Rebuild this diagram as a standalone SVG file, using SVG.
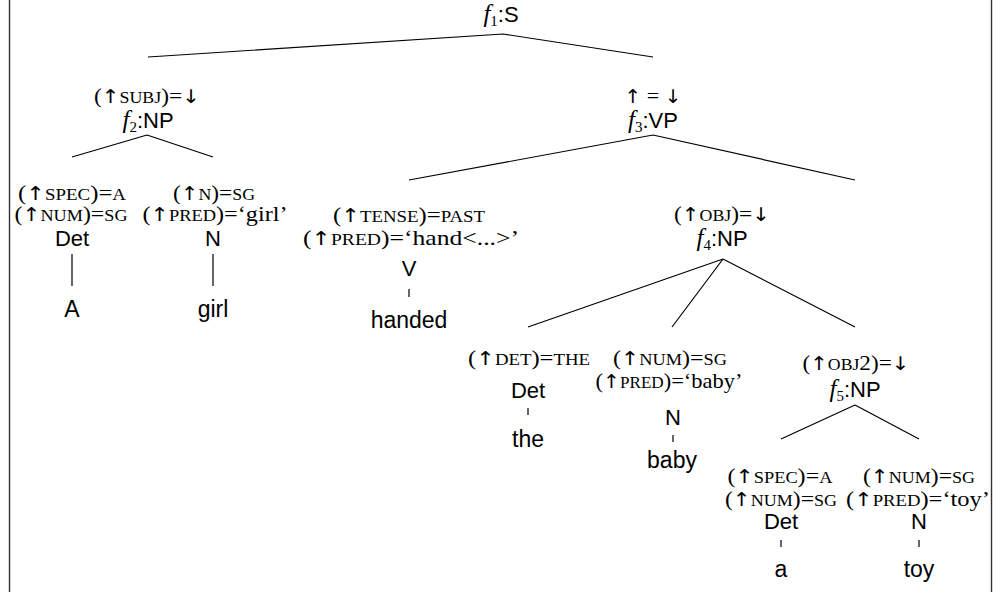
<svg xmlns="http://www.w3.org/2000/svg" width="1007" height="592" viewBox="0 0 1007 592">
<style>
text{text-anchor:middle;fill:#000}
.ann{font-family:"Liberation Serif","DejaVu Serif",serif;font-size:21px}
.sc{font-size:16px}
.ar{font-family:"DejaVu Sans",sans-serif;font-size:19px;fill:#000}
.lab{font-family:"Liberation Sans","DejaVu Sans",sans-serif;font-size:22px}
.leaf{font-family:"Liberation Sans","DejaVu Sans",sans-serif;font-size:23px}
.fi{font-family:"Liberation Serif",serif;font-style:italic;font-size:25px}
.sub{font-family:"Liberation Serif",serif;font-size:15px}
.edge{stroke:#000;stroke-width:1.2;fill:none}
.frame{stroke:#333;stroke-width:1.4;fill:none}
</style>
<rect width="1007" height="592" fill="#fff"/>
<g id="frame">
<path class="frame" d="M9.5,0V592M991.5,0V592"/>
</g>
<g id="connectors">
<path class="edge" d="M503,34L148,57M503,34L653,57"/>
<path class="edge" d="M147,135L72,157M147,135L213,157"/>
<path class="edge" d="M72,254V286M213,254V286"/>
<path class="edge" d="M653,135L409,180M653,135L855,180"/>
<path class="edge" d="M409,289V297"/>
<path class="edge" d="M723,259L528,327M723,259L672,327M723,259L855,327"/>
<path class="edge" d="M528,408V415M673,435V442"/>
<path class="edge" d="M855,405L781,439M855,405L919,439"/>
<path class="edge" d="M781,540V547M919,540V547"/>
</g>
<g id="n-S">
<text class="lab" x="501" y="22"><tspan class="fi">f</tspan><tspan class="sub" dy="4">1</tspan><tspan dy="-4">:S</tspan></text>
</g>
<g id="n-NP2">
<text class="ann" x="147" y="103" textLength="106" lengthAdjust="spacingAndGlyphs">(<tspan class="ar">↑</tspan><tspan class="sc">SUBJ</tspan>)=<tspan class="ar">↓</tspan></text>
<text class="lab" x="148" y="128"><tspan class="fi">f</tspan><tspan class="sub" dy="4">2</tspan><tspan dy="-4">:NP</tspan></text>
</g>
<g id="n-Det1">
<text class="ann" x="72" y="200" textLength="108" lengthAdjust="spacingAndGlyphs">(<tspan class="ar">↑</tspan><tspan class="sc">SPEC</tspan>)=<tspan class="sc">A</tspan></text>
<text class="ann" x="71" y="221" textLength="113" lengthAdjust="spacingAndGlyphs">(<tspan class="ar">↑</tspan><tspan class="sc">NUM</tspan>)=<tspan class="sc">SG</tspan></text>
<text class="lab" x="72" y="246">Det</text>
</g>
<g id="w-A"><text class="leaf" x="72" y="317">A</text></g>
<g id="n-N1">
<text class="ann" x="214" y="200" textLength="82" lengthAdjust="spacingAndGlyphs">(<tspan class="ar">↑</tspan><tspan class="sc">N</tspan>)=<tspan class="sc">SG</tspan></text>
<text class="ann" x="215" y="221" textLength="145" lengthAdjust="spacingAndGlyphs">(<tspan class="ar">↑</tspan><tspan class="sc">PRED</tspan>)=‘girl’</text>
<text class="lab" x="213" y="246">N</text>
</g>
<g id="w-girl"><text class="leaf" x="213" y="317">girl</text></g>
<g id="n-VP">
<text class="ann" x="653" y="103" textLength="57" lengthAdjust="spacingAndGlyphs"><tspan class="ar">↑</tspan> = <tspan class="ar">↓</tspan></text>
<text class="lab" x="653" y="128"><tspan class="fi">f</tspan><tspan class="sub" dy="4">3</tspan><tspan dy="-4">:VP</tspan></text>
</g>
<g id="n-V">
<text class="ann" x="409" y="222" textLength="152" lengthAdjust="spacingAndGlyphs">(<tspan class="ar">↑</tspan><tspan class="sc">TENSE</tspan>)=<tspan class="sc">PAST</tspan></text>
<text class="ann" x="411" y="245" textLength="216" lengthAdjust="spacingAndGlyphs">(<tspan class="ar">↑</tspan><tspan class="sc">PRED</tspan>)=‘hand&lt;...&gt;’</text>
<text class="lab" x="409" y="276">V</text>
</g>
<g id="w-handed"><text class="leaf" x="409" y="328">handed</text></g>
<g id="n-NP4">
<text class="ann" x="722" y="221" textLength="96" lengthAdjust="spacingAndGlyphs">(<tspan class="ar">↑</tspan><tspan class="sc">OBJ</tspan>)=<tspan class="ar">↓</tspan></text>
<text class="lab" x="722" y="246"><tspan class="fi">f</tspan><tspan class="sub" dy="4">4</tspan><tspan dy="-4">:NP</tspan></text>
</g>
<g id="n-Det2">
<text class="ann" x="529" y="365" textLength="122" lengthAdjust="spacingAndGlyphs">(<tspan class="ar">↑</tspan><tspan class="sc">DET</tspan>)=<tspan class="sc">THE</tspan></text>
<text class="lab" x="528" y="398">Det</text>
</g>
<g id="w-the"><text class="leaf" x="528" y="447">the</text></g>
<g id="n-N2">
<text class="ann" x="670" y="365" textLength="114" lengthAdjust="spacingAndGlyphs">(<tspan class="ar">↑</tspan><tspan class="sc">NUM</tspan>)=<tspan class="sc">SG</tspan></text>
<text class="ann" x="669" y="388" textLength="147" lengthAdjust="spacingAndGlyphs">(<tspan class="ar">↑</tspan><tspan class="sc">PRED</tspan>)=‘baby’</text>
<text class="lab" x="673" y="425">N</text>
</g>
<g id="w-baby"><text class="leaf" x="672" y="468">baby</text></g>
<g id="n-NP5">
<text class="ann" x="856" y="370" textLength="107" lengthAdjust="spacingAndGlyphs">(<tspan class="ar">↑</tspan><tspan class="sc">OBJ</tspan>2)=<tspan class="ar">↓</tspan></text>
<text class="lab" x="855" y="397"><tspan class="fi">f</tspan><tspan class="sub" dy="4">5</tspan><tspan dy="-4">:NP</tspan></text>
</g>
<g id="n-Det3">
<text class="ann" x="780" y="483" textLength="105" lengthAdjust="spacingAndGlyphs">(<tspan class="ar">↑</tspan><tspan class="sc">SPEC</tspan>)=<tspan class="sc">A</tspan></text>
<text class="ann" x="781" y="506" textLength="112" lengthAdjust="spacingAndGlyphs">(<tspan class="ar">↑</tspan><tspan class="sc">NUM</tspan>)=<tspan class="sc">SG</tspan></text>
<text class="lab" x="781" y="529">Det</text>
</g>
<g id="w-a"><text class="leaf" x="781" y="577">a</text></g>
<g id="n-N3">
<text class="ann" x="919" y="483" textLength="112" lengthAdjust="spacingAndGlyphs">(<tspan class="ar">↑</tspan><tspan class="sc">NUM</tspan>)=<tspan class="sc">SG</tspan></text>
<text class="ann" x="918" y="506" textLength="144" lengthAdjust="spacingAndGlyphs">(<tspan class="ar">↑</tspan><tspan class="sc">PRED</tspan>)=‘toy’</text>
<text class="lab" x="919" y="529">N</text>
</g>
<g id="w-toy"><text class="leaf" x="919" y="577">toy</text></g>
</svg>
